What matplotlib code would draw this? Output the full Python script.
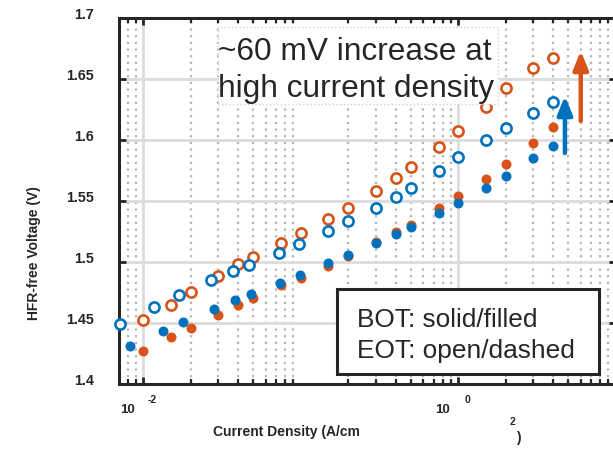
import numpy as np
import matplotlib
matplotlib.use("Agg")
import matplotlib.pyplot as plt
import matplotlib.transforms as mtransforms
from matplotlib.patches import Rectangle

plt.rcParams['font.family'] = ['Liberation Sans', 'DejaVu Sans']

# data
x_orange = [0.01, 0.015, 0.02, 0.03, 0.04, 0.05, 0.075, 0.1, 0.15, 0.2,
            0.3, 0.4, 0.5, 0.75, 1.0, 1.5, 2.0, 3.0, 4.0]
v_orange_eot = [1.4525, 1.4650, 1.4752, 1.4888, 1.4981, 1.5041, 1.5153, 1.5238,
                1.5352, 1.5440, 1.5580, 1.5689, 1.5780, 1.5940, 1.6074, 1.6270,
                1.6424, 1.6593, 1.6675]
v_orange_bot = [1.4273, 1.4383, 1.4457, 1.4568, 1.4648, 1.4702, 1.4811, 1.4871,
                1.4970, 1.5052, 1.5161, 1.5243, 1.5306, 1.5440, 1.5541, 1.5680,
                1.5803, 1.5973, 1.6107]

x_blue_eot = [0.0071, 0.0117, 0.0169, 0.027, 0.037, 0.047, 0.073, 0.098, 0.148, 0.2,
              0.3, 0.4, 0.5, 0.75, 1.0, 1.5, 2.0, 3.0, 4.0]
v_blue_eot = [1.4489, 1.4634, 1.4730, 1.4850, 1.4924, 1.4975, 1.5074, 1.5148,
              1.5257, 1.5334, 1.5445, 1.5535, 1.5609, 1.5746, 1.5858, 1.6002,
              1.6096, 1.6219, 1.6314]
x_blue_bot = [0.0082, 0.0134, 0.0178, 0.028, 0.038, 0.048, 0.074, 0.099, 0.149, 0.2,
              0.3, 0.4, 0.5, 0.75, 1.0, 1.5, 2.0, 3.0, 4.0]
v_blue_bot = [1.4311, 1.4434, 1.4508, 1.4612, 1.4686, 1.4738, 1.4825, 1.4896,
              1.4989, 1.5055, 1.5153, 1.5230, 1.5287, 1.5399, 1.5481, 1.5604,
              1.5707, 1.5852, 1.5953]

# arrows: (x, y_start, y_end)
arrow_orange = (6.0, 1.6156, 1.6730)
arrow_blue = (4.76, 1.5893, 1.6361)

yticks = [1.4, 1.45, 1.5, 1.55, 1.6, 1.65, 1.7]
ytick_labels = ['1.4', '1.45', '1.5', '1.55', '1.6', '1.65', '1.7']
xtick_exps = [-2, 0]

blue = '#0072BD'
orange = '#D95319'
dark = '#262626'

W, H = 613, 464
fig = plt.figure(figsize=(W / 100, H / 100), dpi=100)
ax = fig.add_axes([119.3 / W, (H - 385) / H, 496.4 / W, 366 / H])

ax.set_xscale('log')
ax.set_xlim(0.00705, 10)
ax.set_ylim(1.4, 1.7)

# grid
ax.grid(True, which='major', color='#dcdcdc', lw=2, ls='-', zorder=0)
ax.grid(True, which='minor', axis='x', color='#b5b5b5', lw=1.6, ls=(0, (1, 2)), zorder=0)
ax.set_axisbelow(True)

# markers
ms_open, mew = 7.3, 1.9
ax.plot(x_orange, v_orange_eot, 'o', mfc='white', mec=orange, ms=ms_open, mew=mew, ls='none', zorder=3, clip_on=False)
ax.plot(x_blue_eot, v_blue_eot, 'o', mfc='white', mec=blue, ms=ms_open, mew=mew, ls='none', zorder=3, clip_on=False)
ax.plot(x_orange, v_orange_bot, 'o', color=orange, ms=7.2, mew=0, ls='none', zorder=3)
ax.plot(x_blue_bot, v_blue_bot, 'o', color=blue, ms=7.2, mew=0, ls='none', zorder=3)

# arrows
for (ax_x, y0, y1), c in [(arrow_orange, orange), (arrow_blue, blue)]:
    ax.annotate('', xy=(ax_x, y1), xytext=(ax_x, y0),
                arrowprops=dict(arrowstyle='-|>,head_length=1.1,head_width=0.45',
                                color=c, lw=3.2, shrinkA=0, shrinkB=0), zorder=4)

# spines and ticks
for s in ax.spines.values():
    s.set_linewidth(2.2)
    s.set_color(dark)
ax.tick_params(which='both', direction='in', top=True, right=True, colors=dark)
ax.tick_params(which='major', length=5, width=2)
ax.tick_params(which='minor', length=3.5, width=1.6)
ax.xaxis.set_minor_locator(matplotlib.ticker.LogLocator(base=10, subs=np.arange(2, 10), numticks=20))
ax.xaxis.set_minor_formatter(matplotlib.ticker.NullFormatter())
ax.set_xticks([10.0 ** e for e in xtick_exps])
ax.set_xticklabels([])

ax.set_yticks(yticks)
ax.set_yticklabels(ytick_labels, fontsize=10.3, fontweight='bold', color=dark)
ax.tick_params(axis='y', which='major', pad=18)
shift = mtransforms.ScaledTranslation(0, 5 / 100, fig.dpi_scale_trans)
for lab in ax.get_yticklabels():
    lab.set_transform(lab.get_transform() + shift)

# MATLAB-style 10^n labels
for e in xtick_exps:
    ax.annotate('10', xy=(10.0 ** e, 0), xycoords=('data', 'axes fraction'),
                xytext=(-16, -25), textcoords='offset pixels', ha='center', va='center',
                fontsize=9.5, fontweight='bold', color=dark)
    ax.annotate(str(e), xy=(10.0 ** e, 0), xycoords=('data', 'axes fraction'),
                xytext=(9, -15), textcoords='offset pixels', ha='center', va='center',
                fontsize=7.5, fontweight='bold', color=dark)

# axis labels
fig.text(213 / W, 1 - 432 / H, 'Current Density (A/cm', ha='left', va='center',
         fontsize=10, fontweight='bold', color=dark)
fig.text(513 / W, 1 - 422 / H, '2', ha='center', va='center',
         fontsize=7.5, fontweight='bold', color=dark)
fig.text(518 / W, 1 - 438 / H, ')', ha='center', va='center',
         fontsize=10, fontweight='bold', color=dark)
fig.text(34 / W, 1 - 253 / H, 'HFR-free Voltage (V)', rotation=90, ha='center', va='center',
         fontsize=10, fontweight='bold', color=dark)

# annotation box
ax.add_patch(Rectangle(((218 - 119.3) / 496.4, (385 - 105) / 366), 280 / 496.4, 77 / 366,
                       transform=ax.transAxes, facecolor='white', edgecolor='#cfcfcf',
                       ls=':', lw=1, zorder=5))
ax.text((218 - 119.3) / 496.4, (385 - 60) / 366, '~60 mV increase at', transform=ax.transAxes,
        fontsize=22.8, color=dark, va='baseline', ha='left', zorder=6)
ax.text((218 - 119.3) / 496.4, (385 - 97) / 366, 'high current density', transform=ax.transAxes,
        fontsize=22.8, color=dark, va='baseline', ha='left', zorder=6)

# legend-like box
ax.add_patch(Rectangle(((337 - 119.3) / 496.4, (385 - 375) / 366), 262 / 496.4, 85 / 366,
                       transform=ax.transAxes, facecolor='white', edgecolor=dark,
                       lw=2.2, zorder=5))
ax.text((357 - 119.3) / 496.4, (385 - 327) / 366, 'BOT: solid/filled', transform=ax.transAxes,
        fontsize=18.9, color=dark, va='baseline', ha='left', zorder=6)
ax.text((357 - 119.3) / 496.4, (385 - 358) / 366, 'EOT: open/dashed', transform=ax.transAxes,
        fontsize=18.9, color=dark, va='baseline', ha='left', zorder=6)

fig.savefig('out.png', dpi=100)
